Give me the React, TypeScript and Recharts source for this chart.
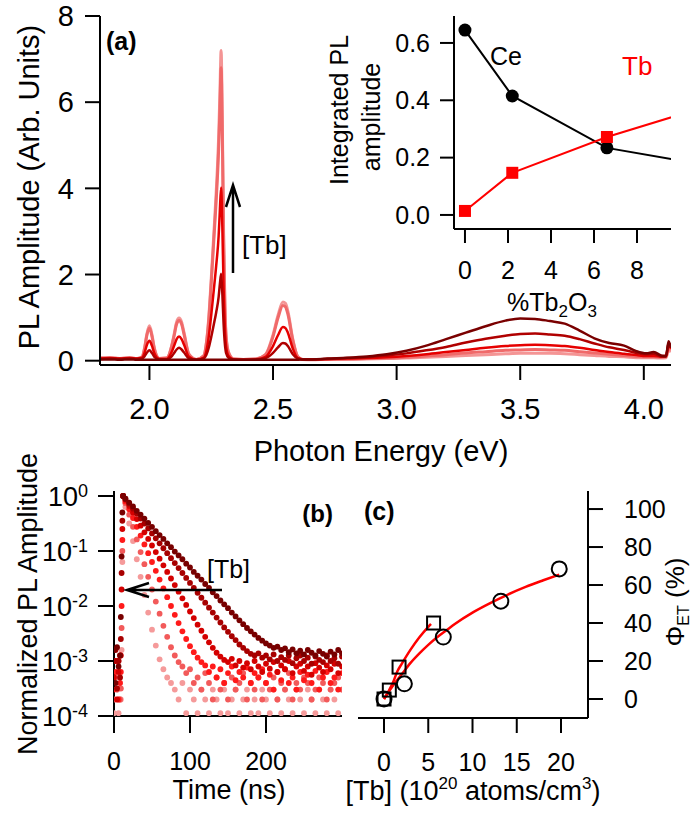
import React from "react";
import {
  ComposedChart,
  Line,
  LineChart,
  ReferenceArea,
  Scatter,
  ScatterChart,
  XAxis,
  YAxis,
} from "recharts";

const FONT = "'Liberation Sans', Arial, Helvetica, sans-serif";

// (a) PL spectra, photon energy in eV
const energy = [
  1.8, 1.84, 1.88, 1.92, 1.95, 1.97, 1.98, 1.99, 2.0, 2.01,
  2.02, 2.04, 2.07, 2.09, 2.1, 2.11, 2.12, 2.13, 2.14, 2.16,
  2.19, 2.22, 2.23, 2.24, 2.25, 2.26, 2.27, 2.28, 2.285, 2.29,
  2.295, 2.3, 2.305, 2.31, 2.32, 2.34, 2.38, 2.43, 2.47, 2.5,
  2.52, 2.54, 2.55, 2.56, 2.58, 2.6, 2.62, 2.66, 2.72, 2.8,
  2.88, 2.96, 3.04, 3.12, 3.2, 3.28, 3.36, 3.44, 3.5, 3.56,
  3.62, 3.68, 3.74, 3.8, 3.86, 3.92, 3.97, 4.01, 4.04, 4.07,
  4.09, 4.1, 4.11,
];

const specNoTb = [
  0.03, 0.03, 0.02, 0.03, 0.02, 0.02, 0.02, 0.02, 0.02, 0.02,
  0.02, 0.02, 0.02, 0.02, 0.02, 0.02, 0.02, 0.02, 0.02, 0.02,
  0.02, 0.02, 0.02, 0.02, 0.02, 0.02, 0.02, 0.02, 0.02, 0.02,
  0.02, 0.02, 0.02, 0.02, 0.02, 0.02, 0.02, 0.02, 0.02, 0.02,
  0.02, 0.02, 0.02, 0.02, 0.02, 0.02, 0.03, 0.03, 0.05, 0.07,
  0.1, 0.15, 0.23, 0.35, 0.5, 0.65, 0.8, 0.93, 0.98, 0.97,
  0.92, 0.86, 0.7, 0.52, 0.41, 0.35, 0.22, 0.17, 0.2, 0.12,
  0.1, 0.45, 0.3,
];

const specTb1 = [
  0.04, 0.05, 0.04, 0.05, 0.04, 0.05, 0.1, 0.19, 0.24, 0.18,
  0.09, 0.03, 0.03, 0.1, 0.18, 0.26, 0.3, 0.26, 0.19, 0.05,
  0.02, 0.05, 0.13, 0.3, 0.55, 0.83, 1.12, 1.48, 1.78, 2.02,
  1.55, 0.86, 0.4, 0.18, 0.07, 0.03, 0.02, 0.03, 0.06, 0.18,
  0.31, 0.41, 0.4, 0.34, 0.15, 0.05, 0.03, 0.03, 0.04, 0.06,
  0.08, 0.12, 0.17, 0.24, 0.32, 0.42, 0.51, 0.58, 0.62, 0.63,
  0.61, 0.58, 0.5, 0.4, 0.31, 0.25, 0.18, 0.15, 0.16, 0.1,
  0.12, 0.4, 0.3,
];

const specTb2 = [
  0.05, 0.06, 0.05, 0.06, 0.05, 0.07, 0.18, 0.37, 0.46, 0.35,
  0.17, 0.04, 0.04, 0.2, 0.35, 0.5, 0.56, 0.5, 0.37, 0.09,
  0.02, 0.07, 0.22, 0.56, 1.06, 1.62, 2.2, 2.9, 3.5, 4.02,
  3.1, 1.7, 0.8, 0.34, 0.11, 0.03, 0.02, 0.03, 0.09, 0.34,
  0.59, 0.78, 0.76, 0.65, 0.28, 0.06, 0.03, 0.03, 0.04, 0.05,
  0.06, 0.08, 0.11, 0.15, 0.2, 0.25, 0.3, 0.34, 0.36, 0.37,
  0.36, 0.34, 0.3, 0.25, 0.2, 0.16, 0.13, 0.11, 0.11, 0.09,
  0.1, 0.35, 0.28,
];

const specTb3 = [
  0.06, 0.06, 0.05, 0.06, 0.05, 0.08, 0.27, 0.6, 0.76, 0.57,
  0.27, 0.05, 0.06, 0.33, 0.58, 0.85, 0.93, 0.85, 0.61, 0.14,
  0.03, 0.11, 0.38, 0.94, 1.8, 2.75, 3.7, 4.9, 5.8, 6.8,
  5.2, 2.8, 1.3, 0.56, 0.18, 0.04, 0.03, 0.04, 0.14, 0.56,
  0.99, 1.28, 1.25, 1.08, 0.47, 0.09, 0.03, 0.03, 0.03, 0.04,
  0.05, 0.06, 0.08, 0.11, 0.14, 0.18, 0.21, 0.24, 0.25, 0.26,
  0.25, 0.24, 0.21, 0.18, 0.15, 0.12, 0.1, 0.09, 0.09, 0.08,
  0.09, 0.3, 0.25,
];

const specTb4 = [
  0.06, 0.07, 0.05, 0.07, 0.05, 0.09, 0.29, 0.63, 0.81, 0.61,
  0.29, 0.05, 0.06, 0.35, 0.62, 0.9, 0.99, 0.9, 0.65, 0.15,
  0.03, 0.12, 0.4, 1.0, 1.9, 2.9, 3.9, 5.2, 6.2, 7.2,
  5.5, 3.0, 1.4, 0.6, 0.2, 0.04, 0.03, 0.04, 0.15, 0.6,
  1.05, 1.36, 1.33, 1.15, 0.5, 0.1, 0.03, 0.02, 0.03, 0.03,
  0.04, 0.05, 0.06, 0.08, 0.1, 0.12, 0.14, 0.16, 0.17, 0.17,
  0.17, 0.16, 0.14, 0.12, 0.1, 0.09, 0.07, 0.07, 0.07, 0.06,
  0.07, 0.25, 0.2,
];

const spectra = [specTb4, specTb3, specTb2, specTb1, specNoTb];
const specColors = ["#f49595", "#f06a6a", "#e60000", "#b00000", "#7a0000"];

const specData = energy.map((e, i) => {
  const row: Record<string, number> = { e };
  spectra.forEach((s, k) => {
    row["s" + k] = s[i];
  });
  return row;
});

// (a) inset: integrated PL vs %Tb2O3 (last point is the trend line end)
const tbPct = [0, 2.2, 6.6, 10];
const ceAmp = [0.645, 0.415, 0.234, 0.19];
const tbAmp = [0.014, 0.147, 0.272, 0.35];
const insetData = tbPct.map((p, i) => ({ p, ce: ceAmp[i], tb: tbAmp[i] }));

// (b) decays, log10 of normalized amplitude
const timeNs = [
  0, 2, 4, 6, 8, 9, 10, 11, 12,
  15, 20, 25, 30, 35, 40, 45, 50, 55, 60,
  65, 70, 75, 80, 85, 90, 95, 100, 105, 110,
  115, 120, 125, 130, 135, 140, 145, 150, 155, 160,
  165, 170, 175, 180, 185, 190, 195, 200, 205, 210,
  215, 220, 225, 230, 235, 240, 245, 250, 255, 260,
  265, 270, 275, 280, 285, 290, 295, 300,
];

const decay1 = [
  -2.8, -3.4, -2.75, -3.1, -2.9, -2.2, -1.1, -0.3, 0,
  -0.05, -0.12, -0.19, -0.27, -0.34, -0.41, -0.49, -0.56, -0.64, -0.71,
  -0.78, -0.86, -0.93, -1.01, -1.08, -1.15, -1.23, -1.3, -1.38, -1.45,
  -1.52, -1.6, -1.67, -1.75, -1.82, -1.9, -1.97, -2.04, -2.12, -2.19,
  -2.26, -2.33, -2.4, -2.46, -2.52, -2.58, -2.63, -2.68, -2.72, -2.76,
  -2.74, -2.8, -2.77, -2.84, -2.79, -2.86, -2.81, -2.88, -2.8, -2.85,
  -2.9, -2.82, -2.87, -2.92, -2.83, -2.88, -2.8, -2.86,
];
const decay2 = [
  -3.0, -2.8, -3.5, -3.0, -3.3, -2.6, -1.4, -0.45, 0,
  -0.05, -0.14, -0.23, -0.32, -0.41, -0.5, -0.59, -0.68, -0.77, -0.86,
  -0.95, -1.04, -1.13, -1.22, -1.31, -1.4, -1.49, -1.58, -1.67, -1.76,
  -1.85, -1.94, -2.03, -2.12, -2.21, -2.3, -2.39, -2.47, -2.55, -2.62,
  -2.7, -2.76, -2.82, -2.87, -2.9, -2.86, -2.94, -2.9, -2.97, -2.88,
  -3.0, -2.93, -2.98, -2.9, -3.04, -2.95, -2.9, -3.0, -2.94, -3.05,
  -2.92, -2.98, -3.02, -2.9, -3.0, -2.95, -3.05, -2.92,
];
const decay3 = [
  -3.3, -3.0, -3.7, -3.2, -2.9, -2.9, -1.7, -0.6, 0,
  -0.07, -0.18, -0.3, -0.42, -0.54, -0.66, -0.78, -0.9, -1.02, -1.14,
  -1.26, -1.38, -1.5, -1.62, -1.74, -1.86, -1.98, -2.1, -2.22, -2.34,
  -2.45, -2.56, -2.66, -2.76, -2.85, -2.92, -2.98, -3.02, -2.96, -3.08,
  -3.0, -3.12, -3.04, -3.15, -3.0, -3.1, -3.2, -3.05, -3.14, -3.02,
  -3.2, -3.08, -3.15, -3.0, -3.22, -3.1, -3.05, -3.18, -3.1, -3.25,
  -3.04, -3.12, -3.2, -3.08, -3.15, -3.05, -3.22, -3.1,
];
const decay4 = [
  -3.52, -3.2, -3.0, -3.7, -3.4, -3.2, -2.0, -0.8, 0,
  -0.1, -0.24, -0.4, -0.56, -0.72, -0.88, -1.04, -1.2, -1.36, -1.52,
  -1.68, -1.84, -2.0, -2.16, -2.31, -2.46, -2.6, -2.73, -2.84, -2.94,
  -3.02, -3.08, -3.2, -3.1, -3.3, -3.15, -3.4, -3.22, -3.1, -3.35,
  -3.2, -3.3, -3.12, -3.4, -3.22, -3.3, -3.15, -3.4, -3.25, -3.52,
  -3.2, -3.35, -3.15, -3.4, -3.3, -3.52, -3.2, -3.35, -3.25, -3.4,
  -3.18, -3.52, -3.3, -3.2, -3.4, -3.3, -3.52, -3.22,
];
const decay5 = [
  -3.7, -3.3, -3.52, -3.0, -3.7, -3.5, -2.4, -1.0, 0,
  -0.13, -0.34, -0.56, -0.79, -1.02, -1.24, -1.47, -1.7, -1.92, -2.14,
  -2.36, -2.56, -2.75, -2.9, -3.02, -3.1, -3.22, -3.15, -3.4, -3.3,
  -3.52, -3.22, -3.4, -3.7, -3.3, -3.52, -3.4, -3.7, -3.3, -3.52,
  -3.4, -3.22, -3.7, -3.4, -3.52, -3.3, -3.7, -3.4, -3.52, -3.3,
  -3.7, -3.4, -3.52, -3.22, -3.7, -3.4, -3.52, -3.3, -3.4, -3.7,
  -3.52, -3.3, -3.4, -3.7, -3.52, -3.4, -3.3, -3.52,
];
const decay6 = [
  -3.95, -3.7, -3.52, -3.95, -3.7, -3.7, -2.8, -1.2, 0,
  -0.2, -0.5, -0.82, -1.15, -1.47, -1.8, -2.12, -2.43, -2.72, -2.97,
  -3.15, -3.3, -3.4, -3.52, -3.7, -3.4, -3.95, -3.52, -3.7, -3.95,
  -3.52, -3.7, -3.95, -3.52, -3.7, -3.95, -3.52, -3.95, -3.7, -3.52,
  -3.95, -3.7, -3.52, -3.95, -3.7, -3.95, -3.52, -3.7, -3.95, -3.52,
  -3.7, -3.95, -3.52, -3.7, -3.95, -3.52, -3.7, -3.95, -3.52, -3.7,
  -3.95, -3.52, -3.7, -3.95, -3.52, -3.7, -3.95, -3.52,
];

// drawn lightest first so the slow (dark) decays sit on top
const decays = [decay6, decay5, decay4, decay3, decay2, decay1];
const decayColors = ["#f59a9a", "#f25a5a", "#ff1a1a", "#d40000", "#a80000", "#780000"];
const decayData = decays.map((d) => timeNs.map((t, i) => ({ t, v: Math.pow(10, d[i]) })));

// (c) energy transfer efficiency
const circTb = [0, 2.3, 6.7, 13.2, 19.8];
const circPhi = [0, 8, 32.6, 51.5, 68.5];
const sqTb = [0, 0.6, 1.7, 5.6];
const sqPhi = [0, 4.7, 16.8, 40];
const circFitTb = [0, 0.5, 1, 2, 3, 4, 5, 6, 7, 8, 10, 12, 14, 16, 18, 19.8];
const circFitPhi = [0, 3.5, 7, 13, 19, 24, 28.5, 32.5, 36, 39.5, 45.5, 50.5, 55, 59, 62.5, 65.5];
const sqFitTb = [0, 0.5, 1, 1.5, 2, 3, 4, 5, 5.3];
const sqFitPhi = [0, 4, 8.5, 14.5, 18.5, 26, 32.5, 38, 39.5];

const circData = circTb.map((x, i) => ({ x, y: circPhi[i] }));
const sqData = sqTb.map((x, i) => ({ x, y: sqPhi[i] }));
const circFit = circFitTb.map((x, i) => ({ x, y: circFitPhi[i] }));
const sqFit = sqFitTb.map((x, i) => ({ x, y: sqFitPhi[i] }));

const ax = { stroke: "#000", strokeWidth: 2 };

const PowTick = (props: any) => {
  const { x, y, payload } = props;
  const exp = Math.round(Math.log10(payload.value));
  return (
    <text x={x} y={y + 10} textAnchor="end" fontSize={27} fill="#000">
      10
      <tspan dy={-9} fontSize={18}>
        {exp}
      </tspan>
    </text>
  );
};

export default function App() {
  return (
    <div
      style={{
        position: "absolute",
        left: 0,
        top: 0,
        width: 692,
        height: 814,
        background: "#fff",
        fontFamily: FONT,
      }}
    >
      {/* (a) spectra */}
      <div style={{ position: "absolute", left: 0, top: 0 }}>
        <LineChart
          width={692}
          height={480}
          data={specData}
          margin={{ top: 16, right: 21, bottom: 55, left: 0 }}
        >
          <XAxis
            dataKey="e"
            type="number"
            domain={[1.8, 4.11]}
            allowDataOverflow
            ticks={[2, 2.5, 3, 3.5, 4]}
            tickFormatter={(v) => v.toFixed(1)}
            interval={0}
            height={60}
            axisLine={ax}
            tickLine={ax}
            tickSize={15}
            tickMargin={18}
            tick={{ fill: "#000", fontSize: 29 }}
          />
          <YAxis
            type="number"
            domain={[-0.1, 8]}
            allowDataOverflow
            ticks={[0, 2, 4, 6, 8]}
            interval={0}
            width={100}
            axisLine={ax}
            tickLine={ax}
            tickSize={15}
            tickMargin={11}
            tick={{ fill: "#000", fontSize: 29 }}
          />
          <ReferenceArea fill="none" stroke="#000" strokeWidth={2} />
          {specColors.map((c, k) => (
            <Line
              key={k}
              dataKey={"s" + k}
              type="monotone"
              stroke={c}
              strokeWidth={k < 2 ? 3 : 2.5}
              dot={false}
              activeDot={false}
              isAnimationActive={false}
            />
          ))}
        </LineChart>
      </div>

      {/* (a) inset */}
      <div style={{ position: "absolute", left: 300, top: 0 }}>
        <LineChart
          width={392}
          height={330}
          data={insetData}
          margin={{ top: 16, right: 21, bottom: 51, left: 0 }}
        >
          <XAxis
            dataKey="p"
            type="number"
            domain={[-0.51, 9.58]}
            allowDataOverflow
            ticks={[0, 2, 4, 6, 8]}
            interval={0}
            height={50}
            axisLine={ax}
            tickLine={ax}
            tickSize={14}
            tickMargin={18}
            tick={{ fill: "#000", fontSize: 25 }}
          />
          <YAxis
            type="number"
            domain={[-0.049, 0.694]}
            allowDataOverflow
            ticks={[0, 0.2, 0.4, 0.6]}
            tickFormatter={(v) => v.toFixed(1)}
            interval={0}
            width={154}
            axisLine={ax}
            tickLine={ax}
            tickSize={14}
            tickMargin={10}
            tick={{ fill: "#000", fontSize: 25 }}
          />
          <ReferenceArea fill="#fff" fillOpacity={0} stroke="#000" strokeWidth={2} />
          <Line
            dataKey="ce"
            type="linear"
            stroke="#000"
            strokeWidth={2}
            activeDot={false}
            isAnimationActive={false}
            dot={(p: any) =>
              p.index < 3 ? (
                <circle key={"c" + p.index} cx={p.cx} cy={p.cy} r={6.5} fill="#000" />
              ) : (
                <g key={"c" + p.index} />
              )
            }
          />
          <Line
            dataKey="tb"
            type="linear"
            stroke="#ff0000"
            strokeWidth={2}
            activeDot={false}
            isAnimationActive={false}
            dot={(p: any) =>
              p.index < 3 ? (
                <rect key={"t" + p.index} x={p.cx - 6} y={p.cy - 6} width={12} height={12} fill="#ff0000" />
              ) : (
                <g key={"t" + p.index} />
              )
            }
          />
        </LineChart>
      </div>

      {/* (b) decays */}
      <div style={{ position: "absolute", left: 0, top: 470 }}>
        <ScatterChart width={360} height={344} margin={{ top: 21, right: 18, bottom: 48, left: 0 }}>
          <XAxis
            dataKey="t"
            type="number"
            domain={[0, 300]}
            allowDataOverflow
            ticks={[0, 100, 200]}
            interval={0}
            height={50}
            axisLine={ax}
            tickLine={ax}
            tickSize={17}
            tickMargin={19}
            tick={{ fill: "#000", fontSize: 25 }}
          />
          <YAxis
            dataKey="v"
            type="number"
            scale="log"
            domain={[0.0001, 1.233]}
            allowDataOverflow
            ticks={[0.0001, 0.001, 0.01, 0.1, 1]}
            interval={0}
            width={114}
            axisLine={ax}
            tickLine={ax}
            tickSize={16}
            tickMargin={10}
            tick={<PowTick />}
          />
          <ReferenceArea fill="none" stroke="#000" strokeWidth={2} />
          {decayData.map((d, k) => (
            <Scatter
              key={k}
              data={d}
              isAnimationActive={false}
              shape={(p: any) => <circle cx={p.cx} cy={p.cy} r={2.9} fill={decayColors[k]} />}
            />
          ))}
        </ScatterChart>
      </div>

      {/* (c) transfer efficiency */}
      <div style={{ position: "absolute", left: 340, top: 470 }}>
        <ComposedChart width={352} height={344} margin={{ top: 21, right: 0, bottom: 46, left: 18 }}>
          <XAxis
            dataKey="x"
            type="number"
            domain={[-2.94, 23.05]}
            allowDataOverflow
            ticks={[0, 5, 10, 15, 20]}
            interval={0}
            height={50}
            axisLine={ax}
            tickLine={ax}
            tickSize={15}
            tickMargin={20}
            tick={{ fill: "#000", fontSize: 25 }}
          />
          <YAxis
            dataKey="y"
            type="number"
            orientation="right"
            domain={[-10, 109.5]}
            allowDataOverflow
            ticks={[0, 20, 40, 60, 80, 100]}
            interval={0}
            width={104}
            axisLine={ax}
            tickLine={ax}
            tickSize={15}
            tickMargin={21}
            tick={{ fill: "#000", fontSize: 25 }}
          />
          <ReferenceArea fill="none" stroke="#000" strokeWidth={2} />
          <Scatter
            data={circData}
            isAnimationActive={false}
            shape={(p: any) => <circle cx={p.cx} cy={p.cy} r={7.5} fill="none" stroke="#000" strokeWidth={2} />}
          />
          <Scatter
            data={sqData}
            isAnimationActive={false}
            shape={(p: any) => (
              <rect x={p.cx - 6.5} y={p.cy - 6.5} width={13} height={13} fill="none" stroke="#000" strokeWidth={2} />
            )}
          />
          <Line
            data={circFit}
            dataKey="y"
            type="monotone"
            stroke="#ff0000"
            strokeWidth={2.5}
            dot={false}
            activeDot={false}
            isAnimationActive={false}
          />
          <Line
            data={sqFit}
            dataKey="y"
            type="monotone"
            stroke="#ff0000"
            strokeWidth={2.5}
            dot={false}
            activeDot={false}
            isAnimationActive={false}
          />
        </ComposedChart>
      </div>

      {/* titles and annotations */}
      <svg
        width={692}
        height={814}
        style={{ position: "absolute", left: 0, top: 0, pointerEvents: "none" }}
      >
        <g fill="#000">
          <text transform="translate(39,187) rotate(-90)" textAnchor="middle" fontSize={29}>
            PL Amplitude (Arb. Units)
          </text>
          <text x={381} y={461} textAnchor="middle" fontSize={29}>
            Photon Energy (eV)
          </text>
          <text x={106} y={50} fontSize={25} fontWeight="bold">
            (a)
          </text>
          <text x={242} y={254} fontSize={26}>
            [Tb]
          </text>
          <text transform="translate(348,110) rotate(-90)" textAnchor="middle" fontSize={25}>
            Integrated PL
          </text>
          <text transform="translate(380,117) rotate(-90)" textAnchor="middle" fontSize={25}>
            amplitude
          </text>
          <text x={490} y={65} fontSize={25}>
            Ce
          </text>
          <text x={622} y={75} fontSize={26} fill="#ff0000">
            Tb
          </text>
          <text x={552} y={311} textAnchor="middle" fontSize={25}>
            %Tb
            <tspan fontSize={17} dy={6}>
              2
            </tspan>
            <tspan dy={-6}>O</tspan>
            <tspan fontSize={17} dy={6}>
              3
            </tspan>
          </text>

          <text transform="translate(37,604) rotate(-90)" textAnchor="middle" fontSize={27}>
            Normalized PL Amplitude
          </text>
          <text x={229} y={799} textAnchor="middle" fontSize={27}>
            Time (ns)
          </text>
          <text x={333} y={522} textAnchor="end" fontSize={24} fontWeight="bold">
            (b)
          </text>
          <text x={207} y={578} fontSize={25}>
            [Tb]
          </text>

          <text x={364} y={520} fontSize={25} fontWeight="bold">
            (c)
          </text>
          <text x={473} y={800} textAnchor="middle" fontSize={27}>
            [Tb] (10
            <tspan dy={-11} fontSize={17}>
              20
            </tspan>
            <tspan dy={11}> atoms/cm</tspan>
            <tspan dy={-11} fontSize={17}>
              3
            </tspan>
            <tspan dy={11}>)</tspan>
          </text>
          <text transform="translate(684,602) rotate(-90)" textAnchor="middle" fontSize={26}>
            Φ
            <tspan fontSize={16} dy={5}>
              ET
            </tspan>
            <tspan dy={-5}> (%)</tspan>
          </text>
        </g>
        <path d="M233 273 V186 M226 207 L233 185 L240 207" stroke="#000" strokeWidth={2.5} fill="none" />
        <path d="M222 590 H127 M149 583 L127 590 L149 597" stroke="#000" strokeWidth={2.5} fill="none" />
      </svg>
    </div>
  );
}
